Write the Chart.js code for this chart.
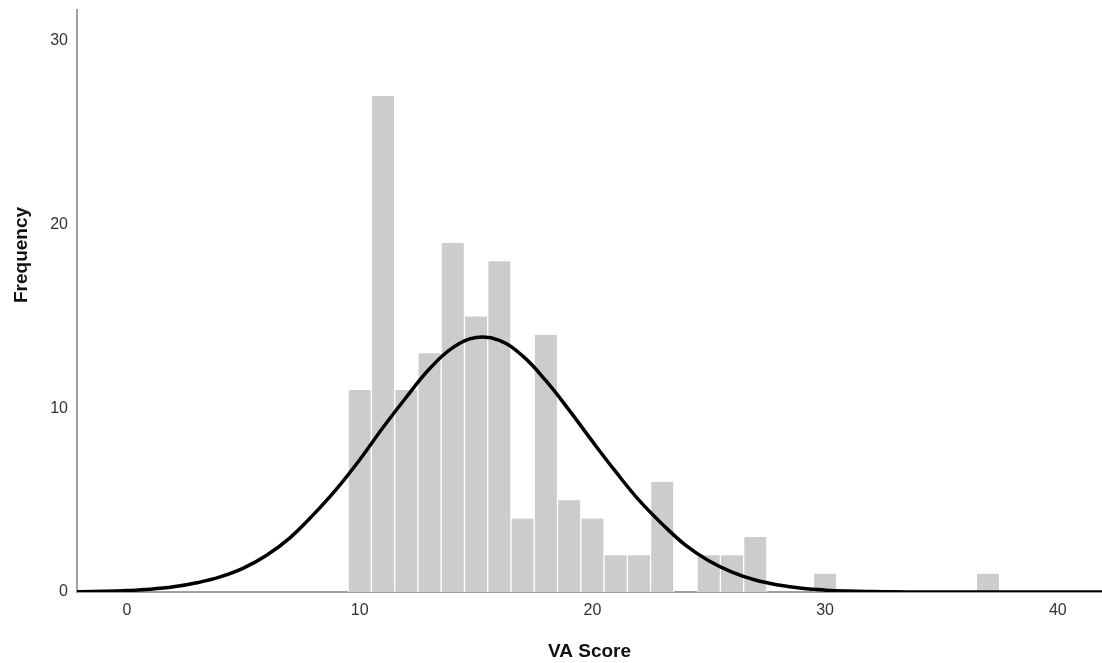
<!DOCTYPE html>
<html>
<head>
<meta charset="utf-8">
<script src="https://cdn.jsdelivr.net/npm/chart.js@4.4.1/dist/chart.umd.min.js"></script>
<style>
  body { margin: 0; background: #fff; }
  #wrap { width: 1102px; height: 663px; position: relative; }
</style>
</head>
<body>
<div id="wrap"><canvas id="myChart"></canvas></div>
<script>
// histogram bins (bin width 1, centred on whole numbers)
const binCenters = [10, 11, 12, 13, 14, 15, 16, 17, 18, 19, 20, 21, 22, 23, 24, 25, 26, 27, 28, 29, 30, 31, 32, 33, 34, 35, 36, 37];
const binCounts = [11, 27, 11, 13, 19, 15, 18, 4, 14, 5, 4, 2, 2, 6, 0, 2, 2, 3, 0, 0, 1, 0, 0, 0, 0, 0, 0, 1];

// normal curve, height at each whole VA score
const curveX = [-3, -2, -1, 0, 1, 2, 3, 4, 5, 6, 7, 8, 9, 10, 11, 12, 13, 14, 15, 16, 17, 18, 19, 20, 21, 22, 23, 24, 25, 26, 27, 28, 29, 30, 31, 32, 33, 34, 35, 36, 37, 38, 39, 40, 41, 42, 43];
const curveY = [0.01, 0.02, 0.04, 0.08, 0.15, 0.28, 0.5, 0.82, 1.3, 2.0, 2.95, 4.2, 5.6, 7.2, 8.95, 10.6, 12.15, 13.3, 13.85, 13.7, 12.85, 11.5, 9.9, 8.2, 6.55, 5.0, 3.7, 2.55, 1.7, 1.08, 0.65, 0.38, 0.2, 0.1, 0.05, 0.025, 0.01, 0.005, 0, 0, 0, 0, 0, 0, 0, 0, 0];

const xTicks = [0, 10, 20, 30, 40];
const yTicks = [0, 10, 20, 30];

const xTitle = 'VA Score';
const yTitle = 'Frequency';

const fontFam = "'Liberation Sans', Arial, sans-serif";

var barData = [];
for (var i = 0; i < binCenters.length; i++) {
    barData.push({ x: binCenters[i], y: binCounts[i] });
}
var lineData = [];
for (var j = 0; j < curveX.length; j++) {
    lineData.push({ x: curveX[j], y: curveY[j] });
}

// y title drawn by hand so it sits where the original has it
const yTitlePlugin = {
    id: 'yTitle',
    afterDraw(chart) {
        const c = chart.ctx;
        c.save();
        c.translate(22, 255);
        c.rotate(-Math.PI / 2);
        c.font = "bold 19px " + fontFam;
        c.fillStyle = '#111';
        c.textAlign = 'center';
        c.textBaseline = 'middle';
        c.fillText(yTitle, 0, 0);
        c.restore();
    }
};

const ctx = document.getElementById('myChart');
const myChart = new Chart(ctx, {
    data: {
        datasets: [{
            type: 'line',
            data: lineData,
            borderColor: '#000',
            borderWidth: 3.5,
            pointRadius: 0,
            tension: 0.4,
            order: 0
        }, {
            type: 'bar',
            data: barData,
            backgroundColor: 'rgb(204,204,204)',
            borderColor: '#fff',
            borderWidth: { left: 1, right: 1, top: 0, bottom: 0 },
            barPercentage: 1,
            categoryPercentage: 1,
            order: 1
        }]
    },
    options: {
        responsive: true,
        maintainAspectRatio: false,
        animation: false,
        layout: { padding: { top: 10, right: 0, left: 0, bottom: 0 } },
        plugins: {
            legend: { display: false },
            tooltip: { enabled: false }
        },
        scales: {
            x: {
                type: 'linear',
                offset: false,
                min: -2.15,
                max: 41.9,
                afterFit: function (s) { s.height = 71; s.paddingLeft = 0; s.paddingRight = 0; },
                afterBuildTicks: function (s) { s.ticks = xTicks.map(v => ({ value: v })); },
                grid: { display: false, drawTicks: false, offset: false },
                border: { display: true, color: '#a0a0a0', width: 2 },
                ticks: { color: '#333', font: { family: fontFam, size: 16 }, padding: 9, maxRotation: 0 },
                title: { display: true, text: xTitle, color: '#111', font: { family: fontFam, size: 19, weight: 'bold' }, padding: { top: 0, bottom: 0 } }
            },
            y: {
                min: 0,
                max: 31.68,
                afterFit: function (s) { s.width = 77; s.paddingTop = 0; s.paddingBottom = 0; },
                afterBuildTicks: function (s) { s.ticks = yTicks.map(v => ({ value: v })); },
                grid: { display: false, drawTicks: false },
                border: { display: true, color: '#a0a0a0', width: 2 },
                ticks: { color: '#333', font: { family: fontFam, size: 16 }, padding: 9 }
            }
        }
    },
    plugins: [yTitlePlugin]
});
</script>
</body>
</html>
